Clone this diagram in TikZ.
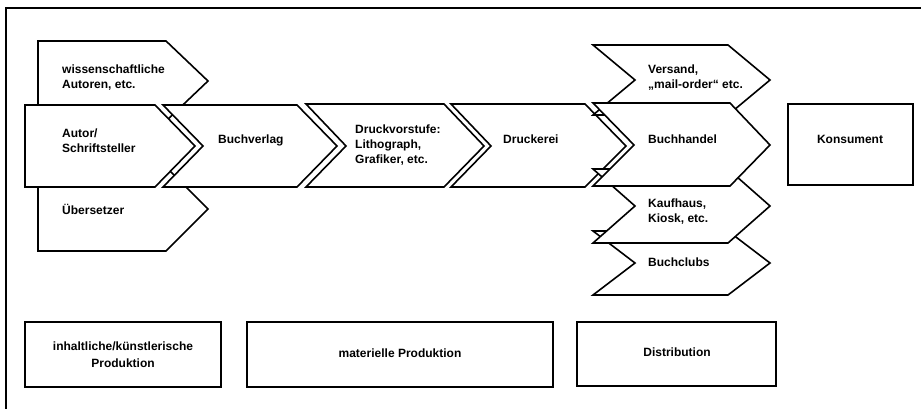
\documentclass[tikz,border=0pt]{standalone}
\usepackage{fontspec}
\setmainfont{Liberation Sans}
\begin{document}
\begin{tikzpicture}[x=1pt,y=-1pt,
  shapeline/.style={draw=black,fill=white,line width=1.6pt,line join=miter},
  boxline/.style={draw=black,fill=white,line width=1.6pt},
  lbl/.style={font=\fontsize{12}{15}\selectfont\bfseries,inner sep=0pt,align=left,anchor=base west},
  clbl/.style={font=\fontsize{12}{17}\selectfont\bfseries,inner sep=0pt,align=center,anchor=base}]
\useasboundingbox (0,0) rectangle (921,409);
\fill[white] (0,0) rectangle (921,409);
% frame
\draw[line width=1.8pt] (6,409) -- (6,8) -- (921,8);

% content production (pentagons)
\path[shapeline] (38,41) -- (166,41) -- (208,81) -- (166,121) -- (38,121) -- cycle;
\path[shapeline] (38,167) -- (166,167) -- (208,209) -- (166,251) -- (38,251) -- cycle;
\path[shapeline] (25,105) -- (155,105) -- (195,146) -- (155,187) -- (25,187) -- cycle;

% material production (chevrons)
\path[shapeline] (163,105) -- (297,105) -- (337,146) -- (297,187) -- (163,187) -- (203,146) -- cycle;
\path[shapeline] (306,104) -- (444,104) -- (484,146) -- (444,187) -- (306,187) -- (346,146) -- cycle;
\path[shapeline] (451,104) -- (585,104) -- (626,146) -- (585,187) -- (451,187) -- (491,146) -- cycle;

% distribution (chevrons)
\path[shapeline] (593,231) -- (728,231) -- (770,263) -- (728,295) -- (593,295) -- (635,263) -- cycle;
\path[shapeline] (593,169) -- (728,169) -- (770,206) -- (728,243) -- (593,243) -- (635,206) -- cycle;
\path[shapeline] (593,45) -- (728,45) -- (770,80) -- (728,115) -- (593,115) -- (635,80) -- cycle;
\path[shapeline] (593,103) -- (730,103) -- (770,145) -- (730,186) -- (593,186) -- (634,145) -- cycle;

% consumer
\path[boxline] (788,104) rectangle (913,185);

% stage boxes
\path[boxline] (25,322) rectangle (221,387);
\path[boxline] (247,322) rectangle (553,387);
\path[boxline] (577,322) rectangle (776,386);

% labels (multi-line labels are placed by the baseline of their last line)
\node[lbl] (wiss) at (62,89) {wissenschaftliche\\Autoren, etc.};
\node[lbl] (ueber) at (62,214) {Übersetzer};
\node[lbl] (autor) at (62,153) {Autor/\\Schriftsteller};
\node[lbl] (verlag) at (218,143) {Buchverlag};
\node[lbl] (vorstufe) at (355,164) {Druckvorstufe:\\Lithograph,\\Grafiker, etc.};
\node[lbl] (druck) at (503,143) {Druckerei};
\node[lbl] (versand) at (648,89) {Versand,\\„mail-order“ etc.};
\node[lbl] (handel) at (648,143) {Buchhandel};
\node[lbl] (kauf) at (648,222) {Kaufhaus,\\Kiosk, etc.};
\node[lbl] (club) at (648,266) {Buchclubs};
\node[clbl] (kons) at (850,144) {Konsument};
\node[clbl] (inh) at (123,367) {inhaltliche/künstlerische\\Produktion};
\node[clbl] (mat) at (400,357) {materielle Produktion};
\node[clbl] (dist) at (677,356) {Distribution};
\end{tikzpicture}
\end{document}
